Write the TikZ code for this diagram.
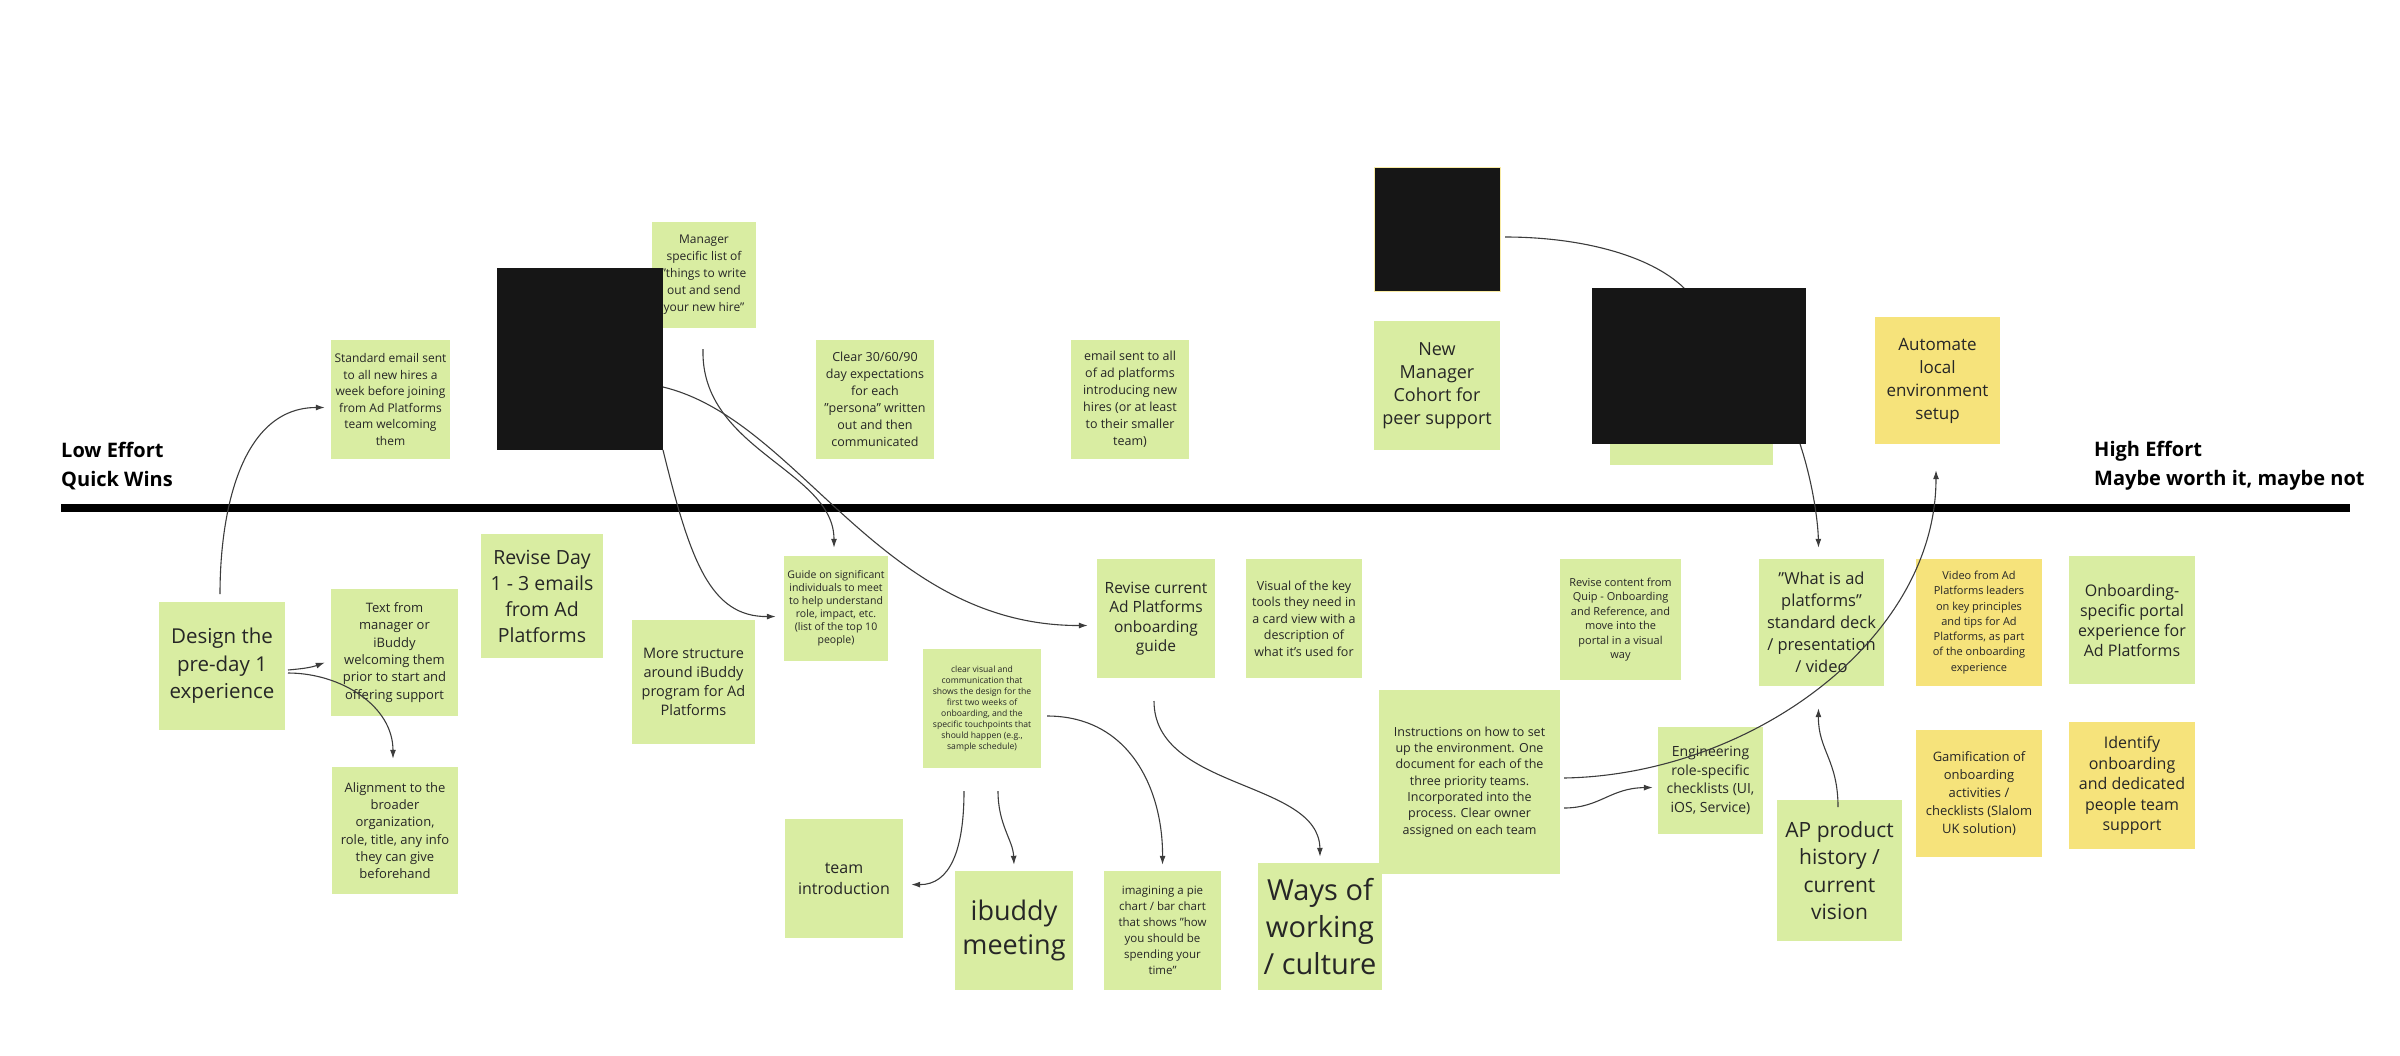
\documentclass[tikz,border=0pt]{standalone}
\usepackage{fontspec}
\setmainfont{Open Sans}
\usetikzlibrary{arrows.meta}
\definecolor{ngreen}{HTML}{D9EDA2}
\definecolor{nyellow}{HTML}{F6E37B}
\definecolor{nblack}{HTML}{161616}
\definecolor{lgrey}{HTML}{3C3C3C}
\newcommand{\fs}[2]{\fontsize{#1}{#2}\selectfont}
\tikzset{
  note/.style n args={2}{fill=ngreen, draw=none, minimum width=#1, minimum height=#2, align=center, inner sep=2pt, text=black!85},
  ynote/.style n args={2}{note={#1}{#2}, fill=nyellow},
  blk/.style n args={2}{fill=nblack, minimum width=#1, minimum height=#2, inner sep=0pt},
  con/.style={draw=lgrey, line width=1.1pt, -{Latex[length=9pt,width=6pt]}},
  conn/.style={draw=lgrey, line width=1.1pt},
  lbl/.style={font=\bfseries\fs{20}{29}, align=left, anchor=west, inner sep=0pt}
}
\begin{document}
\begin{tikzpicture}[x=1pt,y=-1pt]
\useasboundingbox (0,0) rectangle (2400,1055);
% above line
\node[note={119pt}{119pt}, font=\fs{12}{16.5}] (std) at (390.5,399.5) {Standard email sent\\to all new hires a\\week before joining\\from Ad Platforms\\team welcoming\\them};
\node[note={104pt}{106pt}, font=\fs{12}{17}] (mgr) at (704,275) {Manager\\specific list of\\"things to write\\out and send\\your new hire"};
\node[note={118pt}{119pt}, font=\fs{12.5}{17}] (clr) at (875,399.5) {Clear 30/60/90\\day expectations\\for each\\"persona" written\\out and then\\communicated};
\node[note={118pt}{119pt}, font=\fs{12.5}{17}] (eml) at (1130,399.5) {email sent to all\\of ad platforms\\introducing new\\hires (or at least\\to their smaller\\team)};
\node[note={126pt}{129pt}, font=\fs{18}{23}] (nmc) at (1437,385.5) {New\\Manager\\Cohort for\\peer support};
\node[note={163pt}{165pt}] (hid) at (1691.5,382.5) {};
\node[ynote={125pt}{127pt}, font=\fs{17}{23}] (auto) at (1937.5,380.5) {Automate\\local\\environment\\setup};
% labels and line
\node[lbl] (low) at (61,466) {Low Effort\\Quick Wins};
\node[lbl] (high) at (2094,466) {High Effort\\Maybe worth it, maybe not};
\coordinate (la) at (61,508);
\coordinate (lb) at (2350,508);
\draw[line width=8pt, black] (la) -- (lb);
% below line
\node[note={126pt}{128pt}, font=\fs{20.5}{27.5}] (design) at (222,666) {Design the\\pre-day 1\\experience};
\node[note={127pt}{127pt}, font=\fs{13}{17.3}] (txtmgr) at (394.5,652.5) {Text from\\manager or\\iBuddy\\welcoming them\\prior to start and\\offering support};
\node[note={126pt}{127pt}, font=\fs{13}{17.3}] (align) at (395,830.5) {Alignment to the\\broader\\organization,\\role, title, any info\\they can give\\beforehand};
\node[note={122pt}{124pt}, font=\fs{19.5}{26}] (rday) at (542,596) {Revise Day\\1 - 3 emails\\from Ad\\Platforms};
\node[note={123pt}{124pt}, font=\fs{14.5}{19}] (more) at (693.5,682) {More structure\\around iBuddy\\program for Ad\\Platforms};
\node[note={104pt}{105pt}, font=\fs{10.5}{13}] (guide) at (836,608.5) {Guide on significant\\individuals to meet\\to help understand\\role, impact, etc.\\(list of the top 10\\people)};
\node[note={118pt}{119pt}, font=\fs{8.6}{11}] (cvis) at (982,708.5) {clear visual and\\communication that\\shows the design for the\\first two weeks of\\onboarding, and the\\specific touchpoints that\\should happen (e.g.,\\sample schedule)};
\node[note={118pt}{119pt}, font=\fs{15.5}{19.5}] (rcur) at (1156,618.5) {Revise current\\Ad Platforms\\onboarding\\guide};
\node[note={116pt}{119pt}, font=\fs{12.5}{16.5}] (vkey) at (1304,618.5) {Visual of the key\\tools they need in\\a card view with a\\description of\\what it's used for};
\node[note={118pt}{119pt}, font=\fs{16}{21}] (team) at (844,878.5) {team\\introduction};
\node[note={118pt}{119pt}, font=\fs{27}{34}] (ibud) at (1014,930.5) {ibuddy\\meeting};
\node[note={117pt}{119pt}, font=\fs{11.5}{16}] (pie) at (1162.5,930.5) {imagining a pie\\chart / bar chart\\that shows "how\\you should be\\spending your\\time"};
\node[note={124pt}{127pt}, font=\fs{29}{37}] (ways) at (1320,926.5) {Ways of\\working\\/ culture};
\node[note={181pt}{184pt}, font=\fs{12.5}{16.3}] (instr) at (1469.5,782) {Instructions on how to set\\up the environment. One\\document for each of the\\three priority teams.\\Incorporated into the\\process. Clear owner\\assigned on each team};
\node[note={121pt}{121pt}, font=\fs{11}{14.5}] (quip) at (1620.5,619.5) {Revise content from\\Quip - Onboarding\\and Reference, and\\move into the\\portal in a visual\\way};
\node[note={105pt}{107pt}, font=\fs{14}{18.7}] (eng) at (1710.5,780.5) {Engineering\\role-specific\\checklists (UI,\\iOS, Service)};
\node[note={125pt}{127pt}, font=\fs{16.5}{22}] (what) at (1821.5,622.5) {"What is ad\\platforms"\\standard deck\\/ presentation\\/ video};
\node[note={125pt}{141pt}, font=\fs{21}{27.5}] (ap) at (1839.5,870.5) {AP product\\history /\\current\\vision};
\node[ynote={126pt}{127pt}, font=\fs{11}{15.3}] (video) at (1979,622.5) {Video from Ad\\Platforms leaders\\on key principles\\and tips for Ad\\Platforms, as part\\of the onboarding\\experience};
\node[note={126pt}{128pt}, font=\fs{16}{20}] (onb) at (2132,620) {Onboarding-\\specific portal\\experience for\\Ad Platforms};
\node[ynote={126pt}{127pt}, font=\fs{13}{18}] (gam) at (1979,793.5) {Gamification of\\onboarding\\activities /\\checklists (Slalom\\UK solution)};
\node[ynote={126pt}{127pt}, font=\fs{16}{20.6}] (ident) at (2132,785.5) {Identify\\onboarding\\and dedicated\\people team\\support};
% free ends
\coordinate (dtop) at (220,594);
\coordinate (dr1) at (288,670);
\coordinate (dr2) at (288,673);
\coordinate (b1r) at (663,387);
\coordinate (b1b) at (663,450);
\coordinate (mb) at (703,349);
\coordinate (cv1) at (964,791);
\coordinate (cv2) at (998,791);
\coordinate (cv3) at (1047,716);
\coordinate (rc) at (1154,701);
\coordinate (in1) at (1564,778);
\coordinate (in2) at (1564,808);
\coordinate (apt) at (1838,807);
\coordinate (b3b) at (1800,444);
\coordinate (b2r) at (1505,237);
\coordinate (b3t) at (1684,288);
% connectors
\draw[con] (dtop) to[out=90,in=180] ([xshift=-6pt,yshift=-8pt]std.west);
\draw[con] (dr1) to[out=5,in=200] ([xshift=-6pt,yshift=-10pt]txtmgr.west);
\draw[con] (dr2) to[out=0,in=90] ([xshift=-2pt,yshift=8pt]align.north);
\draw[con] (b1r) .. controls (800,420) and (880,626) .. ([xshift=-9pt,yshift=-7pt]rcur.west);
\draw[con] (b1b) .. controls (690,560) and (710,617) .. ([xshift=-8pt,yshift=-8pt]guide.west);
\draw[con] (mb) .. controls (700,450) and (834,470) .. ([xshift=-2pt,yshift=8pt]guide.north);
\draw[con] (cv1) .. controls (964,850) and (950,885) .. ([xshift=8pt,yshift=-6pt]team.east);
\draw[con] (cv2) .. controls (998,825) and (1013,840) .. ([yshift=6pt]ibud.north);
\draw[con] (cv3) .. controls (1130,716) and (1163,790) .. ([yshift=6pt]pie.north);
\draw[con] (rc) .. controls (1154,790) and (1319,780) .. ([yshift=6pt]ways.north);
\draw[con] (in1) .. controls (1750,775) and (1936,640) .. ([xshift=-1.5pt,yshift=-26pt]auto.south);
\draw[con] (in2) .. controls (1600,808) and (1610,788) .. ([xshift=-5pt,yshift=-7pt]eng.west);
\draw[con] (apt) .. controls (1838,760) and (1818,750) .. ([xshift=-3pt,yshift=-22pt]what.south);
\draw[con] (b3b) .. controls (1812,480) and (1818,520) .. ([xshift=-3pt,yshift=11pt]what.north);
\draw[conn] (b2r) .. controls (1580,237) and (1650,255) .. (b3t);
% redaction boxes
\node[blk={166pt}{182pt}] (blk1) at (580,359) {};
\node[blk={126pt}{124pt}, draw=nyellow!70, line width=1pt] (blk2) at (1437,229) {};
\node[blk={214pt}{156pt}] (blk3) at (1699,366) {};
\end{tikzpicture}
\end{document}
